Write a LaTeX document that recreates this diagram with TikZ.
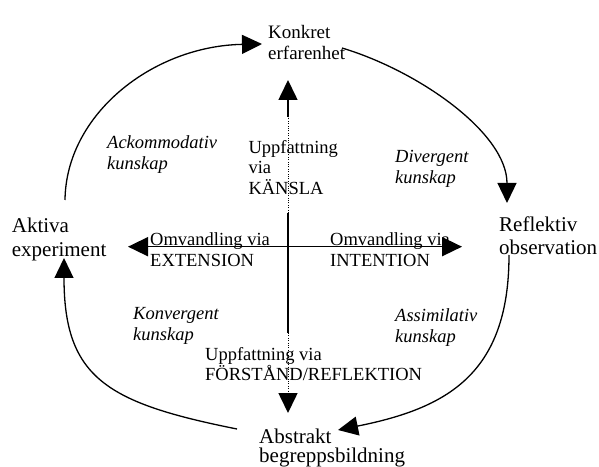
\documentclass[tikz,border=0pt]{standalone}
\usepackage{fontspec}
\setmainfont{Liberation Serif}
\usetikzlibrary{arrows.meta}
\begin{document}
\begin{tikzpicture}[x=1pt,y=1pt,>={Triangle[length=20pt,width=19pt]},line join=round,
	txt/.style={inner sep=0pt,anchor=base west,align=left,font=\fontsize{18.5}{20.5}\selectfont},
	big/.style={txt,font=\fontsize{21}{24}\selectfont},
	kun/.style={txt,font=\fontsize{18.5}{21}\selectfont\itshape},
	cyc/.style={line width=1.3pt},
	ax/.style={line width=1.6pt},
	dot/.style={line width=0.8pt,dash pattern=on 1pt off 1.4pt}]
	\useasboundingbox (0,0) rectangle (599,466);
	% cykeln
	\coordinate (a1) at (65,266); \coordinate (a2) at (262,422);
	\coordinate (b1) at (342,418); \coordinate (b2) at (507,263);
	\coordinate (c1) at (509,211); \coordinate (c2) at (338,36);
	\coordinate (d1) at (237,37); \coordinate (d2) at (64,208);
	\draw[cyc,->] (a1) .. controls +(1,86) and +(-109,-2) .. (a2);
	\draw[cyc,->] (b1) .. controls +(76.6,-23) and +(0,70) .. (b2);
	\draw[cyc,->] (c1) .. controls +(0,-120) and +(107.8,21.6) .. (c2);
	\draw[cyc,->] (d1) .. controls +(-130,26) and +(0,-120) .. (d2);
	% korset
	\coordinate (o) at (288,219.3);
	\coordinate (up) at (288,386); \coordinate (dn) at (288,53);
	\coordinate (lt) at (128,219.3); \coordinate (rt) at (462,219.3);
	\coordinate (u1) at (288,253); \coordinate (u2) at (288,349);
	\coordinate (n1) at (288,133); \coordinate (n2) at (288,73);
	\draw[ax,->] (o) -- (lt);
	\draw[ax,->] (o) -- (rt);
	\draw[ax] (o) -- (u1) (o) -- (n1);
	\draw[dot] (u1) -- (u2) (n1) -- (n2);
	\draw[ax,->] (u2) -- (up);
	\draw[ax,->] (n2) -- (dn);
	% texter (base = sista raden + strut)
	\node[txt,font=\fontsize{19}{21}\selectfont] (konkret) at (268,406.7) {Konkret\\erfarenhet};
	\node[big] (aktiva) at (11.7,209.8) {Aktiva\\experiment};
	\node[big,font=\fontsize{21}{23}\selectfont] (reflektiv) at (499,211.1) {Reflektiv\\observation};
	\node[txt,font=\fontsize{21}{19.5}\selectfont] (abstrakt) at (259,3.2) {Abstrakt\\begreppsbildning};
	\node[txt] (ext) at (150,199.6) {Omvandling via\\EXTENSION};
	\node[txt] (int) at (330,199.6) {Omvandling via\\INTENTION};
	\node[txt] (kansla) at (248.3,271.8) {Uppfattning\\via\\KÄNSLA};
	\node[txt,font=\fontsize{18.5}{19}\selectfont] (forstand) at (205,85.3) {Uppfattning via\\FÖRSTÅND/REFLEKTION};
	\foreach \n/\p/\t in {ack/{107,296.7}/Ackommodativ,div/{395,282}/Divergent,konv/{133,125.7}/Konvergent,ass/{395,123.7}/Assimilativ}
	\node[kun] (\n) at (\p) {\t\\kunskap};
\end{tikzpicture}
\end{document}
